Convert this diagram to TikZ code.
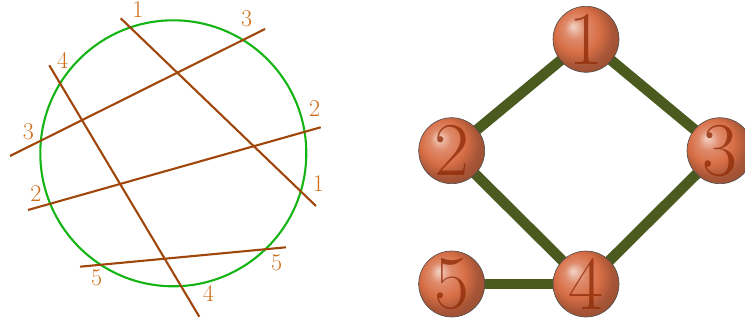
\documentclass[tikz,border=0pt]{standalone}
\usetikzlibrary{shadings}
\definecolor{chord}{RGB}{160,70,10}
\definecolor{lbl}{RGB}{205,110,25}
\definecolor{circ}{RGB}{20,180,20}
\definecolor{edgec}{RGB}{75,90,30}
\definecolor{ballc}{RGB}{215,110,70}
\definecolor{numc}{RGB}{145,45,10}
\pgfdeclareradialshading{myball}{\pgfpoint{-10bp}{10bp}}{%
  color(0bp)=(white!70!ballc); color(8bp)=(ballc!80!white); color(17bp)=(ballc);
  color(25bp)=(ballc!78!black); color(50bp)=(ballc!55!black)}
\tikzset{
  chordline/.style={draw=chord,line width=2.1pt},
  endlbl/.style={text=lbl,font=\fontsize{24}{24}\selectfont,inner sep=0pt},
  vball/.style={circle,minimum size=66pt,inner sep=0pt,shading=myball,draw=black!70,line width=0.6pt,
    font=\fontsize{76}{76}\selectfont,text=numc,text opacity=0.8},
  gedge/.style={draw=edgec,line width=10.5pt}
}
\begin{document}
\begin{tikzpicture}[x=1pt,y=-1pt]
\useasboundingbox (0,0) rectangle (745,324);
% circle
\node[circle,draw=circ,line width=2.1pt,minimum size=266pt,inner sep=0pt] (C) at (173.3,153.3) {};
% chord end points
\coordinate (a1) at (120.7,18.3);  \coordinate (b1) at (316,206);
\coordinate (a3) at (10,156);      \coordinate (b3) at (265,29);
\coordinate (a4) at (49.3,65.3);   \coordinate (b4) at (199.3,316.7);
\coordinate (a2) at (28,210);      \coordinate (b2) at (320.7,127.3);
\coordinate (a5) at (80,266.7);    \coordinate (b5) at (286,247.3);
\draw[chordline] (a1) -- (b1);
\draw[chordline] (a3) -- (b3);
\draw[chordline] (a4) -- (b4);
\draw[chordline] (a2) -- (b2);
\draw[chordline] (a5) -- (b5);
% labels
\node[endlbl] (l1a) at (138,10) {1};
\node[endlbl] (l1b) at (318.3,183.3) {1};
\node[endlbl] (l2a) at (36,194) {2};
\node[endlbl] (l2b) at (314.7,108.5) {2};
\node[endlbl] (l3a) at (28.3,131.5) {3};
\node[endlbl] (l3b) at (246.7,18.3) {3};
\node[endlbl] (l4a) at (62.7,60) {4};
\node[endlbl] (l4b) at (208.3,293.5) {4};
\node[endlbl] (l5a) at (96.7,277.3) {5};
\node[endlbl] (l5b) at (276.7,262.7) {5};
% graph
\coordinate (p1) at (586,39.3);
\coordinate (p2) at (451.7,150.7);
\coordinate (p3) at (720,150.7);
\coordinate (p4) at (586,284);
\coordinate (p5) at (451.7,284);
\draw[gedge] (p1) -- (p2);
\draw[gedge] (p1) -- (p3);
\draw[gedge] (p2) -- (p4);
\draw[gedge] (p3) -- (p4);
\draw[gedge] (p5) -- (p4);
\node[vball] (n1) at (p1) {1};
\node[vball] (n2) at (p2) {2};
\node[vball] (n3) at (p3) {3};
\node[vball] (n4) at (p4) {4};
\node[vball] (n5) at (p5) {5};
\end{tikzpicture}
\end{document}
